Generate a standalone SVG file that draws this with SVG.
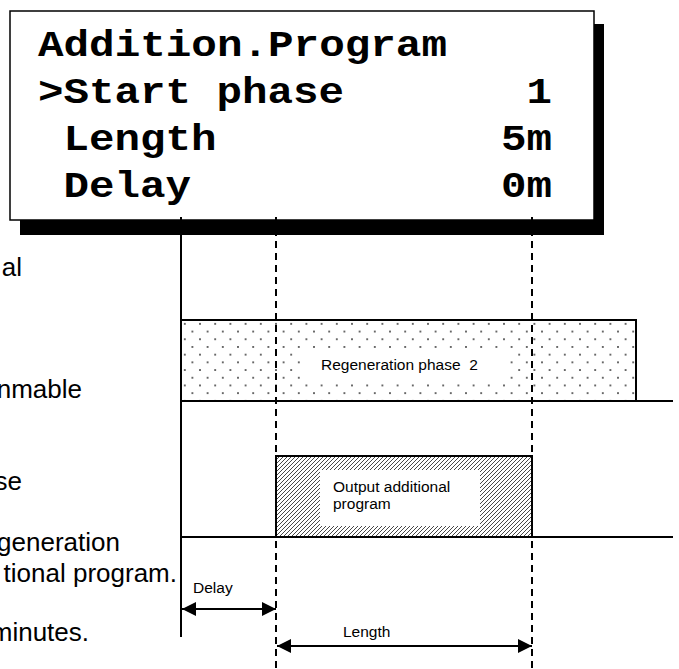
<svg xmlns="http://www.w3.org/2000/svg" width="679" height="669" viewBox="0 0 679 669">
  <style>
    .mono { font-family: "Courier New", "Liberation Mono", monospace; font-weight: bold; font-size: 37px; fill: #000; }
    .side { font-family: "Liberation Sans", Arial, sans-serif; font-size: 26px; fill: #000; text-anchor: end; }
    .lbl { font-family: "Liberation Sans", Arial, sans-serif; font-size: 15.5px; fill: #000; }
    .edge { fill: none; stroke: #000; stroke-width: 2; }
    .dash { fill: none; stroke: #000; stroke-width: 2; stroke-dasharray: 7 5; }
  </style>
  <defs>
    <pattern id="dots" patternUnits="userSpaceOnUse" x="181" y="320" width="15.2" height="15.4">
      <circle cx="3.8" cy="3.8" r="0.95" fill="#333"/>
      <circle cx="11.4" cy="11.5" r="0.95" fill="#333"/>
    </pattern>
    <pattern id="hatch" patternUnits="userSpaceOnUse" width="4" height="4">
      <path d="M-1,1 L1,-1 M0,4 L4,0 M3,5 L5,3" stroke="#333" stroke-width="0.9"/>
    </pattern>
    <marker id="ah" viewBox="0 0 14 14" refX="14" refY="7" markerWidth="14" markerHeight="14" markerUnits="userSpaceOnUse" orient="auto-start-reverse">
      <path d="M0,0 L14,7 L0,14 Z" fill="#000"/>
    </marker>
  </defs>

  <rect width="679" height="669" fill="#fff"/>

  <g id="side-text">
    <text class="side" x="22" y="276">al</text>
    <text class="side" x="82" y="398">nmable</text>
    <text class="side" x="22" y="490">se</text>
    <text class="side" x="120" y="551">generation</text>
    <text class="side" x="177" y="582">tional program.</text>
    <text class="side" x="89" y="641">minutes.</text>
  </g>

  <g id="regeneration-phase">
    <rect x="181" y="320" width="455" height="81" fill="url(#dots)"/>
    <rect x="302" y="349" width="206" height="30" fill="#fff"/>
    <rect class="edge" x="181" y="320" width="455" height="81"/>
    <text class="lbl" x="321" y="370" font-size="16" xml:space="preserve">Regeneration phase  2</text>
  </g>

  <g id="output-additional-program">
    <rect x="276" y="456" width="256" height="81" fill="url(#hatch)"/>
    <rect x="320" y="470" width="160" height="56" fill="#fff"/>
    <rect class="edge" x="276" y="456" width="256" height="81"/>
    <text class="lbl" x="333" y="492">Output additional</text>
    <text class="lbl" x="333" y="509">program</text>
  </g>

  <g id="display">
    <rect x="20" y="24" width="584" height="211" fill="#000"/>
    <rect x="10" y="11" width="584" height="209" fill="#fff" stroke="#000" stroke-width="1.5"/>
    <text class="mono" x="38" y="56" textLength="409" lengthAdjust="spacingAndGlyphs">Addition.Program</text>
    <text class="mono" x="38" y="103" textLength="306" lengthAdjust="spacingAndGlyphs">&gt;Start phase</text>
    <text class="mono" x="552" y="103" text-anchor="end" textLength="25.5" lengthAdjust="spacingAndGlyphs">1</text>
    <text class="mono" x="63.5" y="150" textLength="153" lengthAdjust="spacingAndGlyphs">Length</text>
    <text class="mono" x="552" y="150" text-anchor="end" textLength="51" lengthAdjust="spacingAndGlyphs">5m</text>
    <text class="mono" x="63.5" y="197" textLength="127.5" lengthAdjust="spacingAndGlyphs">Delay</text>
    <text class="mono" x="552" y="197" text-anchor="end" textLength="51" lengthAdjust="spacingAndGlyphs">0m</text>
  </g>

  <g id="connectors">
    <line class="edge" x1="181" y1="217" x2="181" y2="637"/>
    <line class="dash" x1="276" y1="217" x2="276" y2="669"/>
    <line class="dash" x1="532" y1="217" x2="532" y2="669"/>
    <line class="edge" x1="636" y1="401" x2="673" y2="401"/>
    <line class="edge" x1="181" y1="537" x2="276" y2="537"/>
    <line class="edge" x1="532" y1="537" x2="673" y2="537"/>
    <line class="edge" x1="182" y1="609" x2="276" y2="609" marker-start="url(#ah)" marker-end="url(#ah)"/>
    <line class="edge" x1="277" y1="646" x2="532" y2="646" marker-start="url(#ah)" marker-end="url(#ah)"/>
    <text class="lbl" x="193" y="593">Delay</text>
    <text class="lbl" x="343" y="637">Length</text>
  </g>
</svg>
